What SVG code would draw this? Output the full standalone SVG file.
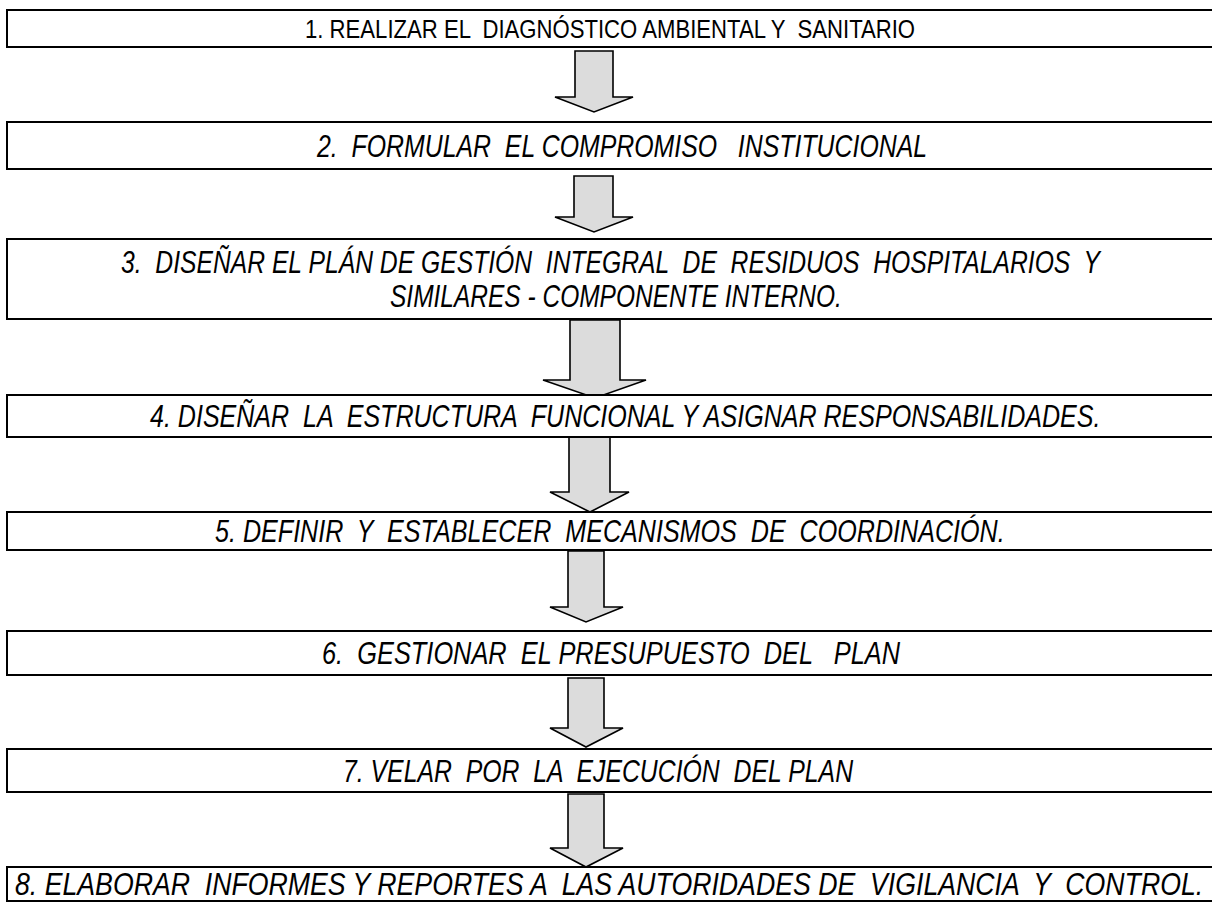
<svg xmlns="http://www.w3.org/2000/svg" width="1212" height="907" viewBox="0 0 1212 907">
<style>
.box{fill:#ffffff;stroke:#000000;stroke-width:2}
.arr{fill:#dcdcdc;stroke:#000000;stroke-width:1.6;stroke-linejoin:miter}
.t{font-family:"Liberation Sans Narrow","Liberation Sans",Arial,sans-serif;font-size:32px;font-style:italic;fill:#000000;white-space:pre}
.t1{font-style:normal;font-size:26px}
</style>
<rect width="1212" height="907" fill="#ffffff"/>
<g id="connectors">
<polygon class="arr" points="575,51 613,51 613,97 633,97 594,112 555,97 575,97"/>
<polygon class="arr" points="574,176 613,176 613,217 633,217 594,232 555,217 574,217"/>
<polygon class="arr" points="570,320 620,320 620,380 646,380 595,398 543,380 570,380"/>
<polygon class="arr" points="569,436 610,436 610,492 629,492 590,512 550,492 569,492"/>
<polygon class="arr" points="568,551 604,551 604,607 623,607 586,622 550,607 568,607"/>
<polygon class="arr" points="568,678 604,678 604,728 623,728 586,747 550,728 568,728"/>
<polygon class="arr" points="568,794 604,794 604,848 623,848 586,867 550,848 568,848"/>
</g>
<g id="node1">
<rect class="box" x="7" y="10" width="1220" height="37"/>
<text class="t t1" transform="translate(305,38) scale(0.82,1)" textLength="744" lengthAdjust="spacingAndGlyphs" xml:space="preserve">1. REALIZAR EL  DIAGNÓSTICO AMBIENTAL Y  SANITARIO</text>
</g>
<g id="node2">
<rect class="box" x="7" y="122" width="1220" height="47"/>
<text class="t" transform="translate(317,157) scale(0.82,1)" textLength="744" lengthAdjust="spacingAndGlyphs" xml:space="preserve">2.  FORMULAR  EL COMPROMISO   INSTITUCIONAL</text>
</g>
<g id="node3">
<rect class="box" x="7" y="239" width="1220" height="80"/>
<text class="t" transform="translate(121,273) scale(0.82,1)" textLength="1194" lengthAdjust="spacingAndGlyphs" xml:space="preserve">3.  DISEÑAR EL PLÁN DE GESTIÓN  INTEGRAL  DE  RESIDUOS  HOSPITALARIOS  Y</text>
<text class="t" transform="translate(390,307) scale(0.82,1)" textLength="551" lengthAdjust="spacingAndGlyphs" xml:space="preserve">SIMILARES - COMPONENTE INTERNO.</text>
</g>
<g id="node4">
<rect class="box" x="7" y="395" width="1220" height="42"/>
<text class="t" transform="translate(150,427) scale(0.82,1)" textLength="1159" lengthAdjust="spacingAndGlyphs" xml:space="preserve">4. DISEÑAR  LA  ESTRUCTURA  FUNCIONAL Y ASIGNAR RESPONSABILIDADES.</text>
</g>
<g id="node5">
<rect class="box" x="7" y="512" width="1220" height="38"/>
<text class="t" transform="translate(215,542) scale(0.82,1)" textLength="963" lengthAdjust="spacingAndGlyphs" xml:space="preserve">5. DEFINIR  Y  ESTABLECER  MECANISMOS  DE  COORDINACIÓN.</text>
</g>
<g id="node6">
<rect class="box" x="7" y="631" width="1220" height="44"/>
<text class="t" transform="translate(322,664) scale(0.82,1)" textLength="705" lengthAdjust="spacingAndGlyphs" xml:space="preserve">6.  GESTIONAR  EL PRESUPUESTO  DEL   PLAN</text>
</g>
<g id="node7">
<rect class="box" x="7" y="749" width="1220" height="43"/>
<text class="t" transform="translate(343,782) scale(0.82,1)" textLength="622" lengthAdjust="spacingAndGlyphs" xml:space="preserve">7. VELAR  POR  LA  EJECUCIÓN  DEL PLAN</text>
</g>
<g id="node8">
<rect class="box" x="7" y="867" width="1220" height="34"/>
<text class="t" transform="translate(15,895) scale(0.82,1)" textLength="1449" lengthAdjust="spacingAndGlyphs" xml:space="preserve">8. ELABORAR  INFORMES Y REPORTES A  LAS AUTORIDADES DE  VIGILANCIA  Y  CONTROL.</text>
</g>
</svg>
